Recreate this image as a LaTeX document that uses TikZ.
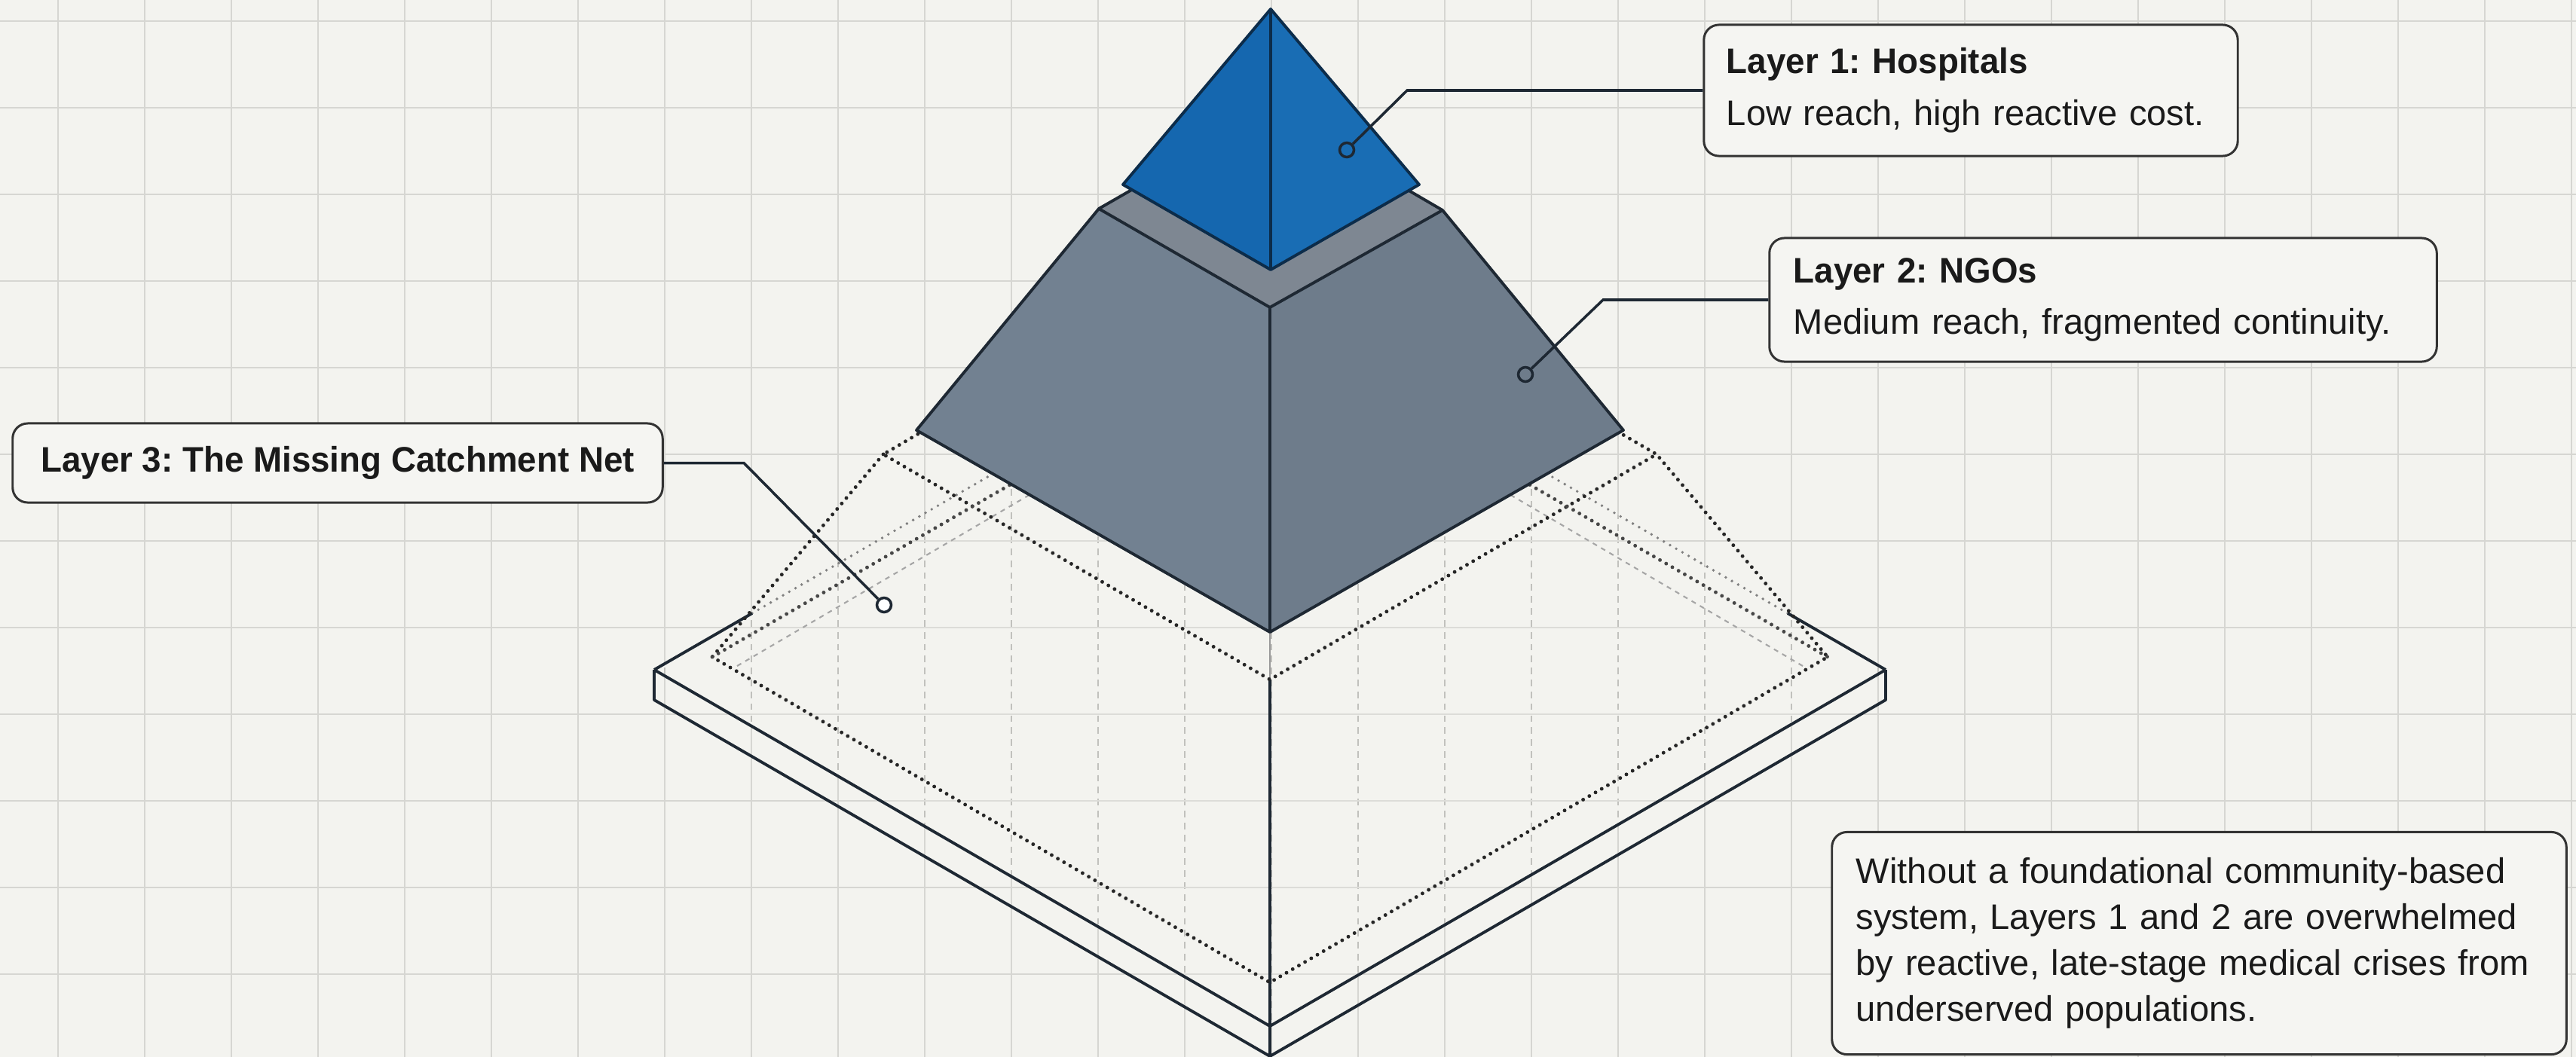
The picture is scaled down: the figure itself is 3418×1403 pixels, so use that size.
\documentclass[tikz,border=0pt]{standalone}
\usepackage{fontspec}
\setmainfont{Liberation Sans}[BoldFeatures={FakeStretch=0.97}]
\frenchspacing
\definecolor{bgc}{HTML}{F3F3EF}
\definecolor{gridc}{HTML}{D6D6D2}
\definecolor{edgec}{HTML}{1E2833}
\definecolor{bluef}{HTML}{1567AF}
\definecolor{bluer}{HTML}{196DB4}
\definecolor{bluee}{HTML}{0C2C4A}
\definecolor{greyleft}{HTML}{728191}
\definecolor{greyright}{HTML}{6E7C8B}
\definecolor{greytop}{HTML}{7E8792}
\definecolor{dotc}{HTML}{262626}
\definecolor{boxfill}{HTML}{F5F5F2}
\definecolor{txtc}{HTML}{1A1A1A}
\tikzset{
  gridline/.style={gridc, line width=0.75pt},
  gridin/.style={gridc!90!black, line width=0.5pt, dash pattern=on 2.5pt off 2pt},
  edge/.style={edgec, line width=1.1pt, line join=round},
  dotline/.style={dotc, line width=1.4pt, dash pattern=on 0pt off 2.7pt, line cap=round},
  dotlight/.style={black!50, line width=1.1pt, dash pattern=on 0pt off 2.7pt, line cap=round},
  dotfaint/.style={black!35, line width=0.6pt, dash pattern=on 1.8pt off 1.8pt},
  leader/.style={edgec, line width=1pt},
  marker/.style={circle, draw=edgec, line width=1pt, minimum size=0.19cm, inner sep=0pt},
  callout/.style={draw=black!80, line width=0.85pt, rounded corners=0.2cm, fill=boxfill,
    text=txtc, font=\fontsize{13.4}{19.5}\selectfont},
}
\begin{document}
\begin{tikzpicture}[x=0.01cm, y=-0.01cm]
\useasboundingbox (0,0) rectangle (3418,1403);
\fill[bgc] (0,0) rectangle (3418,1403);
% grid
\foreach \i in {0,...,29} \draw[gridline] ({77+115*\i},0) -- ({77+115*\i},1403);
\foreach \j in {0,...,11} \draw[gridline] (0,{28+115*\j}) -- (3418,{28+115*\j});

% key points
\coordinate (SL) at (868,889);  \coordinate (SF) at (1685,1362);
\coordinate (SR) at (2502,889); \coordinate (SB) at (1685,416);
\coordinate (SLd) at (868,929); \coordinate (SFd) at (1685,1402);
\coordinate (SRd) at (2502,929);
\coordinate (TL) at (1172,603); \coordinate (TF) at (1685,902);
\coordinate (TR) at (2198,603); \coordinate (TB) at (1685,303);
\coordinate (BL) at (945,872);  \coordinate (BF) at (1685,1304);
\coordinate (BR) at (2425,872); \coordinate (BB) at (1685,444);
\coordinate (GTL) at (1458,277); \coordinate (GTB) at (1686,146);
\coordinate (GTR) at (1914,279); \coordinate (GTF) at (1685,408);
\coordinate (GBL) at (1216,571); \coordinate (GBF) at (1685,839);
\coordinate (GBR) at (2154,571);
\coordinate (PA) at (1686,12);  \coordinate (PL) at (1490,245);
\coordinate (PR) at (1883,245); \coordinate (PF) at (1686,358);

% slab top face: dashed grid seen through
\begin{scope}
\clip (SL) -- (SB) -- (SR) -- (SF) -- cycle;
\fill[bgc] (0,0) rectangle (3418,1403);
\foreach \i in {0,...,29} \draw[gridin] ({77+115*\i},0) -- ({77+115*\i},1403);
\foreach \j in {0,...,11} \draw[gridline, gridc!80!bgc] (0,{28+115*\j}) -- (3418,{28+115*\j});
\end{scope}

% hidden lines
\draw[dotfaint] (978,884) -- (1685,470);
\draw[dotfaint] (2392,884) -- (1685,470);
\draw[dotlight] (998,814) -- (SB);
\draw[dotlight] (2372,814) -- (SB);

% slab
\draw[edge] (SL) -- (SF) -- (SR);
\draw[edge] (SL) -- (SLd) -- (SFd) -- (SRd) -- (SR);
\draw[edge] (SL) -- (998,814);
\draw[edge] (SR) -- (2372,814);
\draw[edge, line width=0.9pt] (TF) -- (SFd);
\draw[black!40, line width=0.5pt] (GBF) -- (TF);

% dotted missing layer
\draw[dotline] (TB) -- (TL) -- (TF) -- (TR) -- cycle;
\draw[dotline] (TL) -- (BL) -- (BF) -- (BR) -- (TR);
\draw[dotline, dotc!85] (BL) -- (BB) -- (BR);

% grey frustum (NGOs)
\fill[greyleft] (GTL) -- (GTF) -- (GBF) -- (GBL) -- cycle;
\fill[greyright] (GTF) -- (GTR) -- (GBR) -- (GBF) -- cycle;
\fill[greytop] (GTL) -- (GTB) -- (GTR) -- (GTF) -- cycle;
\draw[edge] (GTL) -- (GBL) -- (GBF) -- (GBR) -- (GTR) -- (GTB) -- cycle;
\draw[edge] (GTL) -- (GTF) -- (GTR);
\draw[edge] (GTF) -- (GBF);

% blue pyramid (Hospitals)
\fill[bluef] (PA) -- (PL) -- (PF) -- cycle;
\fill[bluer] (PA) -- (PR) -- (PF) -- cycle;
\draw[edge, bluee] (PA) -- (PL) -- (PF) -- (PR) -- cycle;
\draw[bluee, line width=1.4pt] (PA) -- (PF);

% markers
\node[marker] (m1) at (1787,199) {};
\node[marker] (m2) at (2024,497) {};
\node[marker, fill=white] (m3) at (1173,803) {};

% callouts
\node[callout, text width=6.48cm, inner xsep=0.3cm, minimum height=1.74cm, align=left]
  (b1) at (2615,120) {\textbf{Layer 1: Hospitals}\\Low reach, high reactive cost.};
\node[callout, text width=8.21cm, inner xsep=0.32cm, minimum height=1.64cm, align=left]
  (b2) at (2790.5,398) {\textbf{Layer 2: NGOs}\\Medium reach, fragmented continuity.};
\node[callout, minimum width=8.62cm, minimum height=1.05cm, align=center]
  (b3) at (448,614.5) {\textbf{Layer 3: The Missing Catchment Net}};
\node[callout, text width=9.1cm, inner xsep=0.32cm, minimum height=2.95cm, align=left,
  font=\fontsize{13.4}{17.4}\selectfont]
  (b4) at (2918,1252) {Without a foundational community-based\\system, Layers 1 and 2 are overwhelmed\\by reactive, late-stage medical crises from\\underserved populations.};

% leaders
\coordinate (k1) at (1867,120);
\coordinate (k2) at (2127,398);
\coordinate (k3) at (987,614.5);
\draw[leader] (b1.west) -- (k1) -- (m1);
\draw[leader] (b2.west) -- (k2) -- (m2);
\draw[leader] (b3.east) -- (k3) -- (m3);
\end{tikzpicture}
\end{document}
